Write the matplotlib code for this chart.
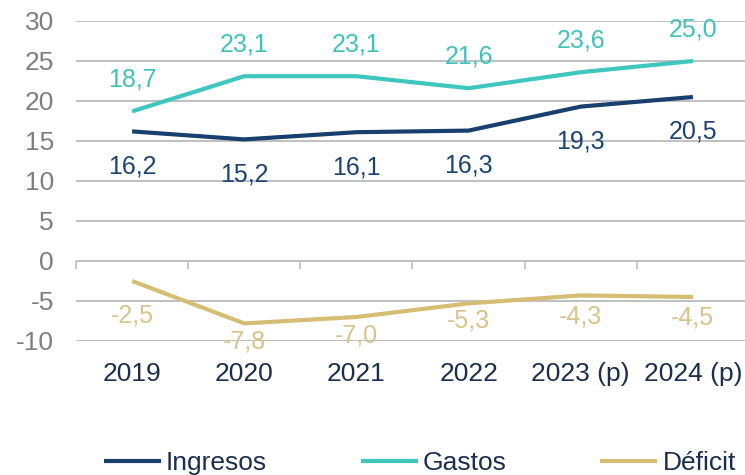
import matplotlib
matplotlib.use("Agg")
import matplotlib.pyplot as plt

years = ["2019", "2020", "2021", "2022", "2023 (p)", "2024 (p)"]
ingresos = [16.2, 15.2, 16.1, 16.3, 19.3, 20.5]
gastos = [18.7, 23.1, 23.1, 21.6, 23.6, 25.0]
deficit = [-2.5, -7.8, -7.0, -5.3, -4.3, -4.5]
yticks = [-10, -5, 0, 5, 10, 15, 20, 25, 30]

# label offsets (pixels) - styling
off_ing = [-35] * 6
off_gas = [32] * 6
off_def = [-35, -18, -18, -17, -21, -21]

plt.rcParams['font.family'] = ['Liberation Sans', 'DejaVu Sans']
plt.rcParams['axes.unicode_minus'] = False

c_ing, c_gas, c_def = "#17406F", "#3EC6BF", "#D5BD74"
lc_ing, lc_gas, lc_def = "#1C4473", "#3FC2BC", "#D8C38A"

fig = plt.figure(figsize=(7.45, 4.75), dpi=100)
ax = fig.add_axes([76/745, (475-341)/475, 673/745, 320/475])

x = list(range(len(years)))
ax.plot(x, ingresos, color=c_ing, lw=3, label="Ingresos", solid_capstyle='butt', zorder=3)
ax.plot(x, gastos, color=c_gas, lw=3, label="Gastos", solid_capstyle='butt', zorder=3)
ax.plot(x, deficit, color=c_def, lw=3, label="Déficit", solid_capstyle='butt', zorder=3)

def fmt(v):
    return f"{v:.1f}".replace('.', ',')

for vals, offs, col in [(ingresos, off_ing, lc_ing), (gastos, off_gas, lc_gas), (deficit, off_def, lc_def)]:
    for xi, v, o in zip(x, vals, offs):
        ax.annotate(fmt(v), (xi, v), xytext=(0, o), textcoords='offset pixels',
                    ha='center', va='center', fontsize=18, color=col, zorder=4)

ax.set_xlim(-0.5, len(years) - 0.5)
ax.set_ylim(-10, 30)
ax.set_yticks(yticks)
ax.set_yticklabels([str(t) for t in yticks])
ax.set_xticks(x)
ax.set_xticklabels(years)
ax.tick_params(axis='y', length=0, pad=16, labelsize=19, labelcolor="#7F7F7F")
ax.tick_params(axis='x', length=0, pad=15, labelsize=19, labelcolor="#1B2E4E")
ax.grid(axis='y', color="#BFBFBF", lw=1.4, zorder=0)
ax.set_axisbelow(True)
for s in ax.spines.values():
    s.set_visible(False)

sec = ax.secondary_xaxis(0.25)
sec.set_xticks([i - 0.5 for i in range(len(years) + 1)])
sec.set_xticklabels([])
sec.tick_params(axis='x', direction='out', length=6, width=1.2, color="#BFBFBF")
sec.spines['bottom'].set_visible(False)

fig.legend(loc='center left', bbox_to_anchor=(104/745, 1 - 463/475), ncol=3, frameon=False,
           fontsize=19, handlelength=2.15, handletextpad=0.2, columnspacing=3.55,
           borderpad=0, borderaxespad=0, labelcolor="#1B2E4E")

fig.savefig("out.png", dpi=100)
